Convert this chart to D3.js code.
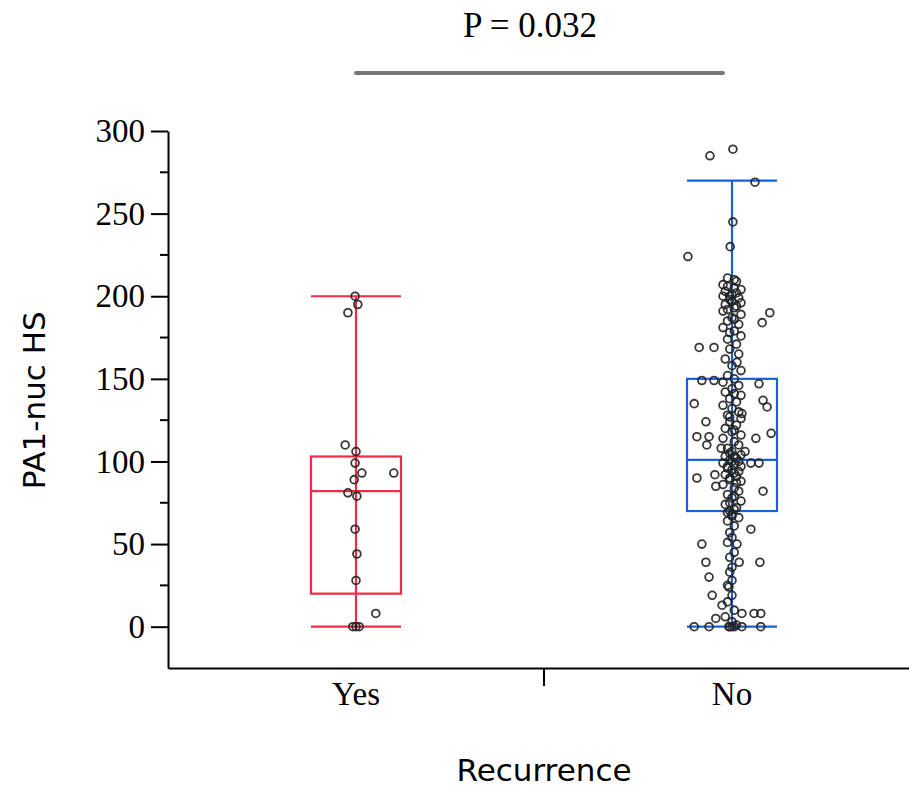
<!DOCTYPE html>
<html>
<head>
<meta charset="utf-8">
<script src="https://d3js.org/d3.v7.min.js"></script>
<style>
    body { margin: 0; background: #fff; }
    svg { display: block; }
    .tick-label { font-family: "Liberation Serif", serif; font-size: 33px; fill: #000; }
    .title-label { font-family: "DejaVu Sans", sans-serif; font-size: 31px; fill: #000; }
</style>
</head>
<body>
<script>
// categories and summary values
const categories = ['Yes', 'No'];
const boxColors = ['#ec2c48', '#1862d8'];
const whiskerLow = [0, 0];
const boxQ1 = [20, 70];
const boxMedian = [82, 101];
const boxQ3 = [103, 150];
const whiskerHigh = [200, 270];

const yTicks = [0, 50, 100, 150, 200, 250, 300];
const yMinorTicks = [25, 75, 125, 175, 225, 275];
const pLabel = 'P = 0.032';

// Yes group: value and jitter (fraction of box half width)
const yesValues = [200, 195, 190, 110, 106, 99, 93, 93, 89, 81, 79, 59, 44, 28, 8, 0, 0, 0];
const yesJitter = [-0.02, 0.04, -0.18, -0.24, 0, -0.02, 0.13, 0.84, -0.04, -0.18, 0.02, -0.02, 0.02, 0, 0.44, -0.07, 0, 0.07];

// No group: spread-out points first, then the dense centre column
const noValues = [
    285, 289, 269, 245, 230, 224, 190, 184, 169, 169, 160, 149, 149, 147, 135, 137, 133,
    124, 129, 117, 115, 115, 110, 114, 108, 106, 99, 99, 90, 92, 85, 82,
    59, 50, 50, 39, 39, 39, 30, 19, 24, 13, 5, 8, 8, 8, 0, 0, 0, 0, 0,
    211, 209, 207, 205, 204, 203, 201, 200, 199, 198, 196, 195, 193, 191, 189, 187, 185,
    183, 181, 179, 176, 174, 171, 168, 165, 162, 158, 155, 152, 150, 148, 146, 144, 142,
    140, 138, 136, 134, 132, 130, 128, 126, 124, 122, 120, 118, 116, 114, 112, 110, 108,
    106, 104, 103, 102, 101, 100, 99, 98, 97, 96, 95, 94, 92, 91, 90, 88, 86, 84, 82, 80,
    78, 76, 74, 72, 70, 68, 66, 64, 61, 57, 54, 51, 45, 42, 36, 33, 28, 25, 19, 15, 10,
    6, 3, 1, 0, 0,
    210, 206, 202, 200, 197, 194, 192, 186, 178, 141, 127, 119, 105, 103, 100, 97, 93, 89,
    87, 79, 75, 71, 69, 67, 0
];
const noJitter = [
    -0.49, 0.02, 0.51, 0.02, -0.04, -0.98, 0.84, 0.67, -0.73, -0.40, 0.11, -0.67, -0.40, 0.60, -0.84, 0.69, 0.78,
    -0.58, 0.22, 0.87, -0.78, -0.51, -0.56, 0.53, -0.24, 0.29, 0.42, 0.60, -0.78, -0.38, -0.36, 0.69,
    0.42, -0.67, 0.11, -0.58, 0.16, 0.62, -0.51, -0.44, -0.07, -0.22, -0.36, 0.22, 0.49, 0.64, -0.84, -0.51, -0.07, 0.22, 0.64,
    -0.1, 0.1, -0.2, 0.05, 0.2, -0.15, 0, -0.2, 0.15, -0.05, 0.2, -0.15, 0.05, -0.2, 0.2, 0, -0.1,
    0.15, -0.2, 0.05, 0.2, -0.1, 0.1, -0.05, 0.15, -0.15, 0, 0.2, -0.1, 0.05, -0.2, 0.15, 0, -0.15,
    0.2, -0.05, 0.1, -0.2, 0, 0.15, -0.1, 0.2, -0.05, 0.1, -0.15, 0, 0.2, -0.2, 0.05, 0.15, -0.1,
    0, 0.2, -0.15, 0.1, -0.05, 0.15, -0.2, 0.05, 0.2, -0.1, 0, 0.15, -0.15, 0.1, -0.05, 0.2, -0.2, 0.05, 0.15, -0.1,
    0, 0.2, -0.15, 0.1, -0.05, 0, 0.15, -0.1, 0.05, -0.05, 0, -0.1, 0.05, -0.05, 0, -0.05, 0, -0.1, 0, -0.1, 0.05,
    -0.15, 0, 0.1, -0.05, 0,
    0.05, -0.1, 0.1, -0.05, 0.0, 0.1, -0.1, 0.05, -0.05, 0.05, -0.05, 0.05, -0.05, 0.05, 0.0, -0.1, 0.05, -0.05,
    0.1, 0.05, -0.05, 0.05, -0.1, 0.0, 0.05
];

const width = 909, height = 791;

const svg = d3.select('body').append('svg')
    .attr('width', width)
    .attr('height', height);

const x = d3.scaleBand().domain(categories).range([168, 920]);
const y = d3.scaleLinear().domain([-25, 300]).range([668, 131]);
const halfBox = 45;
const jit = d3.scaleLinear().domain([-1, 1]).range([-halfBox, halfBox]);
const cx = c => x(c) + x.bandwidth() / 2;

// y axis
const yAxis = svg.append('g')
    .attr('transform', 'translate(168,0)')
    .call(d3.axisLeft(y).tickValues(yTicks).tickSize(17).tickSizeOuter(0).tickPadding(6));
yAxis.select('.domain').attr('stroke', '#000').attr('stroke-width', 2);
yAxis.selectAll('.tick line').attr('stroke', '#000').attr('stroke-width', 2);
yAxis.selectAll('.tick text').attr('class', 'tick-label').attr('font-size', null).attr('font-family', null);

svg.append('g')
    .selectAll('line')
    .data(yMinorTicks)
    .join('line')
    .attr('x1', 160).attr('x2', 168)
    .attr('y1', d => y(d)).attr('y2', d => y(d))
    .attr('stroke', '#000').attr('stroke-width', 2);

// x axis
const xAxis = svg.append('g')
    .attr('transform', 'translate(0,668)')
    .call(d3.axisBottom(x).tickSize(0).tickSizeOuter(0).tickPadding(14));
xAxis.select('.domain').attr('stroke', '#000').attr('stroke-width', 2);
xAxis.selectAll('.tick text').attr('class', 'tick-label').attr('font-size', null).attr('font-family', null);
xAxis.append('line')
    .attr('x1', x('No')).attr('x2', x('No'))
    .attr('y1', 0).attr('y2', 18)
    .attr('stroke', '#000').attr('stroke-width', 2);

// axis titles
svg.append('text')
    .attr('class', 'title-label')
    .attr('x', x('No'))
    .attr('y', 781)
    .attr('text-anchor', 'middle')
    .text('Recurrence');

svg.append('text')
    .attr('class', 'title-label')
    .attr('transform', `translate(45,${y(137)}) rotate(-90)`)
    .attr('text-anchor', 'middle')
    .text('PA1-nuc HS');

// boxes
const groups = svg.append('g')
    .selectAll('g')
    .data(categories)
    .join('g')
    .attr('stroke', (d, i) => boxColors[i])
    .attr('stroke-width', 2.2)
    .attr('fill', 'none');

groups.append('line')
    .attr('x1', d => cx(d)).attr('x2', d => cx(d))
    .attr('y1', (d, i) => y(whiskerLow[i])).attr('y2', (d, i) => y(whiskerHigh[i]));
groups.append('rect')
    .attr('x', d => cx(d) - halfBox)
    .attr('width', halfBox * 2)
    .attr('y', (d, i) => y(boxQ3[i]))
    .attr('height', (d, i) => y(boxQ1[i]) - y(boxQ3[i]))
    .attr('fill', 'none');
groups.append('line')
    .attr('x1', d => cx(d) - halfBox).attr('x2', d => cx(d) + halfBox)
    .attr('y1', (d, i) => y(boxMedian[i])).attr('y2', (d, i) => y(boxMedian[i]));
groups.append('line')
    .attr('x1', d => cx(d) - halfBox).attr('x2', d => cx(d) + halfBox)
    .attr('y1', (d, i) => y(whiskerHigh[i])).attr('y2', (d, i) => y(whiskerHigh[i]));
groups.append('line')
    .attr('x1', d => cx(d) - halfBox).attr('x2', d => cx(d) + halfBox)
    .attr('y1', (d, i) => y(whiskerLow[i])).attr('y2', (d, i) => y(whiskerLow[i]));

// points
const points = [
    ...yesValues.map((v, i) => ({ cat: 'Yes', v, j: yesJitter[i] })),
    ...noValues.map((v, i) => ({ cat: 'No', v, j: noJitter[i] }))
];
svg.append('g')
    .selectAll('circle')
    .data(points)
    .join('circle')
    .attr('cx', d => cx(d.cat) + jit(d.j))
    .attr('cy', d => y(d.v))
    .attr('r', 3.9)
    .attr('fill', 'none')
    .attr('stroke', '#222')
    .attr('stroke-width', 1.8)
    .attr('stroke-opacity', 0.9);

// significance bar
svg.append('line')
    .attr('x1', cx('Yes')).attr('x2', cx('No') - 9)
    .attr('y1', 73).attr('y2', 73)
    .attr('stroke', '#777')
    .attr('stroke-width', 4)
    .attr('stroke-linecap', 'round');

svg.append('text')
    .attr('class', 'tick-label')
    .attr('x', 530)
    .attr('y', 37)
    .attr('font-size', 35)
    .style('font-size', '35px')
    .attr('text-anchor', 'middle')
    .text(pLabel);
</script>
</body>
</html>
